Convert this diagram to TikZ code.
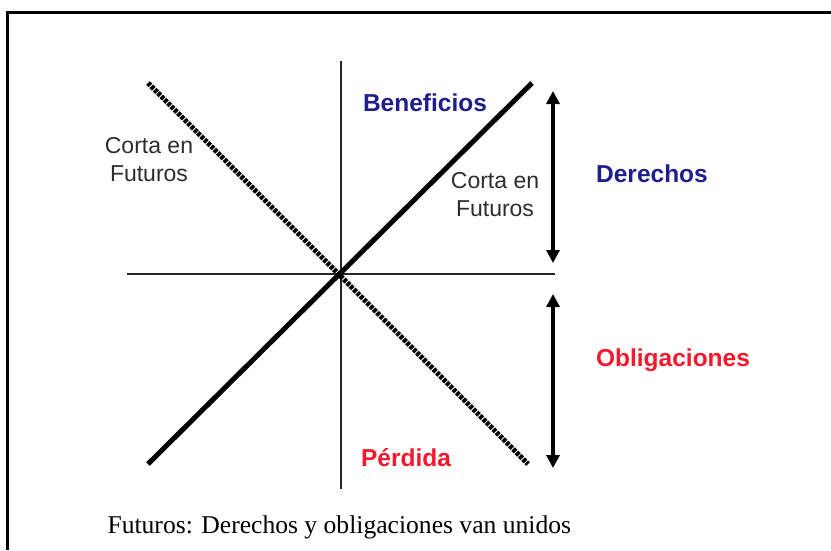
\documentclass[tikz,border=0pt]{standalone}
\usepackage{fontspec}
\setmainfont{Liberation Serif}
\setsansfont{Liberation Sans}
\usepackage[usenames,dvipsnames]{xcolor}
\usepackage{tkz-euclide}
\usetikzlibrary{arrows.meta}
\definecolor{azulben}{RGB}{30,30,140}
\definecolor{rojoper}{RGB}{245,25,45}
\definecolor{grisfut}{RGB}{45,45,45}
\tikzset{
	etiq/.style={font=\sffamily\bfseries\fontsize{24.5}{29}\selectfont,anchor=base},
	corta/.style={font=\sffamily\fontsize{23}{28}\selectfont,text=grisfut,align=center},
	eje/.style={line width=1.5pt,draw=black!85},
	posic/.style={line width=5pt},
	punteada/.style={line width=5pt,dash pattern=on 3.5pt off 1.2pt},
	doble/.style={line width=3.2pt,{Triangle[width=13pt,length=13pt]}-{Triangle[width=13pt,length=13pt]}}
}

\begin{document}
\begin{tikzpicture}[x=1pt,y=-1pt]
		\useasboundingbox (0,0) rectangle (831,550);
		\tkzDefPoint(7,550){m_{1}}\tkzDefPoint(7,12){m_{2}}\tkzDefPoint(831,12){m_{3}}
		\tkzDefPoint(341,61){e_{a}}\tkzDefPoint(341,489){e_{b}}
		\tkzDefPoint(127,274){e_{L}}\tkzDefPoint(555,274){e_{R}}
		\tkzDefPoint(148,464){l_{a}}\tkzDefPoint(532,83){l_{b}}
		\tkzDefPoint(148,83){c_{a}}\tkzDefPoint(528,464){c_{b}}
		\tkzDefPoint(553,91){d_{a}}\tkzDefPoint(553,263){d_{b}}
		\tkzDefPoint(553,294){o_{a}}\tkzDefPoint(553,468){o_{b}}
		% marco
		\draw[line width=3pt] (m_{1}) -- (m_{2}) -- (m_{3});
		% ejes
		\draw[eje] (e_{a}) -- (e_{b});
		\draw[eje] (e_{L}) -- (e_{R});
		% posiciones
		\draw[posic] (l_{a}) -- (l_{b});
		\draw[punteada] (c_{a}) -- (c_{b});
		\draw[doble] (d_{a}) -- (d_{b});
		\draw[doble] (o_{a}) -- (o_{b});
		% textos
		\node[etiq,text=azulben] (ben) at (425,111) {Beneficios};
		\node[etiq,text=azulben] (der) at (652,182) {Derechos};
		\node[etiq,text=rojoper] (obl) at (673,366) {Obligaciones};
		\node[etiq,text=rojoper] (per) at (406,466) {Pérdida};
		\node[corta] (cfL) at (149,160) {Corta en\\Futuros};
		\node[corta] (cfR) at (495,195) {Corta en\\Futuros};
		\node[anchor=base west,font=\fontsize{25.6}{30}\selectfont] (pie) at (104,533) {Futuros: Derechos y obligaciones van unidos};
	\end{tikzpicture}
\end{document}
